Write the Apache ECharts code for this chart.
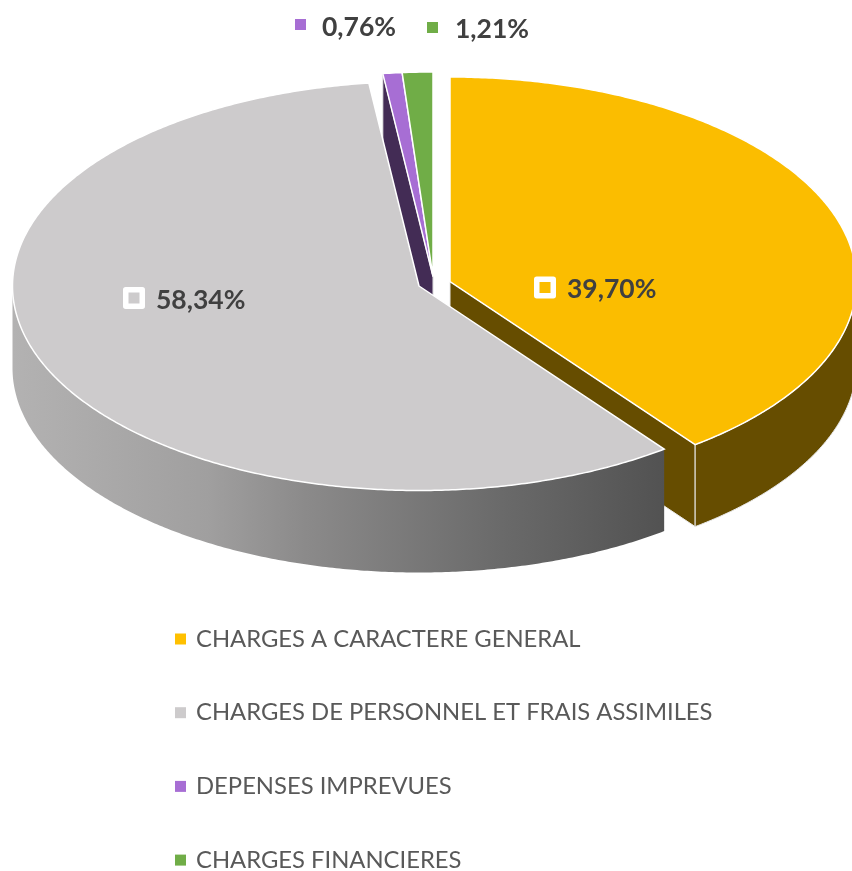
<!DOCTYPE html>
<html>
<head>
	<meta charset="utf-8">
	<title>Charges</title>
	<script src="https://cdn.jsdelivr.net/npm/echarts@6/dist/echarts.min.js"></script>
	<style>
		html,body{margin:0;padding:0;background:#fff;}
		#main{width:852px;height:871px;}
	</style>
</head>
<body>
<div id="main"></div>
<script type="text/javascript">
var categories = ['CHARGES A CARACTERE GENERAL','CHARGES DE PERSONNEL ET FRAIS ASSIMILES','DEPENSES IMPREVUES','CHARGES FINANCIERES'];
var shares = [39.70,58.34,0.76,1.21];

// styles and layout, kept apart from the values
var topColors = ['#FBBD00','#CDCBCC','#A76ED4','#70AD47'];
var sideColors = ['#664D00','#525252','#432C55','#43682B'];
var legendColors = ['#FFC000','#CDCBCC','#A76ED4','#70AD47'];
var sliceShift = [[17,-4.5],[-14,0],[0,-9.5],[0,-9.5]];
var labelPos = [[567,289],[156,300],[322,27],[455,29]];
var markerPos = [[545,287.5],[134,298],[300.5,24.5],[432.5,27.5]];
var markerFramed = [true,true,false,false];

var centerX = 433, centerY = 286, radiusX = 406.5, radiusY = 204.5, depth = 82;

var total = shares.reduce(function(a,b){return a+b;},0);

function edgePoint(cx,cy,deg,drop){
	var a = deg*Math.PI/180;
	return [cx+radiusX*Math.sin(a),cy-radiusY*Math.cos(a)+(drop||0)];
}
function arcPoints(cx,cy,from,to,drop){
	var pts = [];
	var steps = Math.max(2,Math.ceil((to-from)*2));
	for(var i=0;i<=steps;i++){
		pts.push(edgePoint(cx,cy,from+(to-from)*i/steps,drop));
	}
	return pts;
}
// grey wall fades from left to right, other walls are flat
function wallFill(idx){
	if(idx!=1) return sideColors[idx];
	return new echarts.graphic.LinearGradient(0,0,1,0,[
		{offset:0,color:'#B3B2B2'},
		{offset:0.3,color:'#A09F9F'},
		{offset:0.45,color:'#8B8A8A'},
		{offset:0.75,color:'#6A6A6A'},
		{offset:1,color:'#525252'}
	]);
}

function renderSlice(idx){
	return function(params,api){
		var before = 0;
		for(var i=0;i<idx;i++) before += shares[i];
		var from = before/total*360;
		var to = from+api.value(0)/total*360;
		var cx = centerX+sliceShift[idx][0];
		var cy = centerY+sliceShift[idx][1];
		var children = [];
		var sideStroke = {stroke:'#E8E8E8',lineWidth:1};

		// cut faces, only those turned to the viewer
		var cutAngles = [];
		if(Math.sin(from*Math.PI/180)<0) cutAngles.push(from);
		if(Math.sin(to*Math.PI/180)>0.01) cutAngles.push(to);
		cutAngles.forEach(function(deg){
			var p = edgePoint(cx,cy,deg);
			children.push({
				type:'polygon',
				z2:10-idx,
				shape:{points:[[cx,cy],p,[p[0],p[1]+depth],[cx,cy+depth]]},
				style:Object.assign({fill:sideColors[idx]},sideStroke)
			});
		});

		// outer wall on the front half
		var wallFrom = Math.max(from,90), wallTo = Math.min(to,270);
		if(wallTo>wallFrom){
			var upper = arcPoints(cx,cy,wallFrom,wallTo,0);
			var lower = arcPoints(cx,cy,wallFrom,wallTo,depth).reverse();
			children.push({
				type:'polygon',
				z2:20,
				shape:{points:upper.concat(lower)},
				style:{fill:wallFill(idx),stroke:idx==0?'#E8E8E8':null,lineWidth:1}
			});
		}

		// top of the slice
		children.push({
			type:'polygon',
			z2:30,
			shape:{points:[[cx,cy]].concat(arcPoints(cx,cy,from,to,0))},
			style:{fill:topColors[idx],stroke:'#FFFFFF',lineWidth:1.5,lineJoin:'miter'}
		});

		// data label with its key
		var m = markerPos[idx];
		var keySize = markerFramed[idx]?16.5:11;
		children.push({
			type:'rect',
			z2:40,
			shape:{x:m[0]-keySize/2,y:m[1]-keySize/2,width:keySize,height:keySize,r:0},
			style:{fill:topColors[idx],stroke:markerFramed[idx]?'#FFFFFF':null,lineWidth:markerFramed[idx]?5.5:0,lineJoin:'round'}
		});
		children.push({
			type:'text',
			z2:40,
			style:{
				x:labelPos[idx][0],y:labelPos[idx][1],
				text:api.value(0).toFixed(2).replace('.',',')+'%',
				fill:'#404040',
				font:'bold 26.5px Lato',
				verticalAlign:'middle',align:'left'
			}
		});
		return {type:'group',children:children};
	};
}

var chart = echarts.init(document.getElementById('main'),null,{renderer:'canvas'});
chart.setOption({
	animation:false,
	backgroundColor:'#fff',
	legend:{
		orient:'vertical',
		left:170,
		top:622,
		height:400,
		selectedMode:false,
		icon:'rect',
		itemWidth:11,
		itemHeight:11,
		itemGap:49.7,
		textStyle:{color:'#595959',fontFamily:'Lato',fontSize:23.8,padding:[0,0,0,5]},
		data:categories
	},
	series:categories.map(function(name,i){
		return {
			type:'custom',
			name:name,
			coordinateSystem:'none',
			silent:true,
			itemStyle:{color:legendColors[i]},
			renderItem:renderSlice(i),
			data:[[shares[i]]]
		};
	})
});
</script>
</body>
</html>
